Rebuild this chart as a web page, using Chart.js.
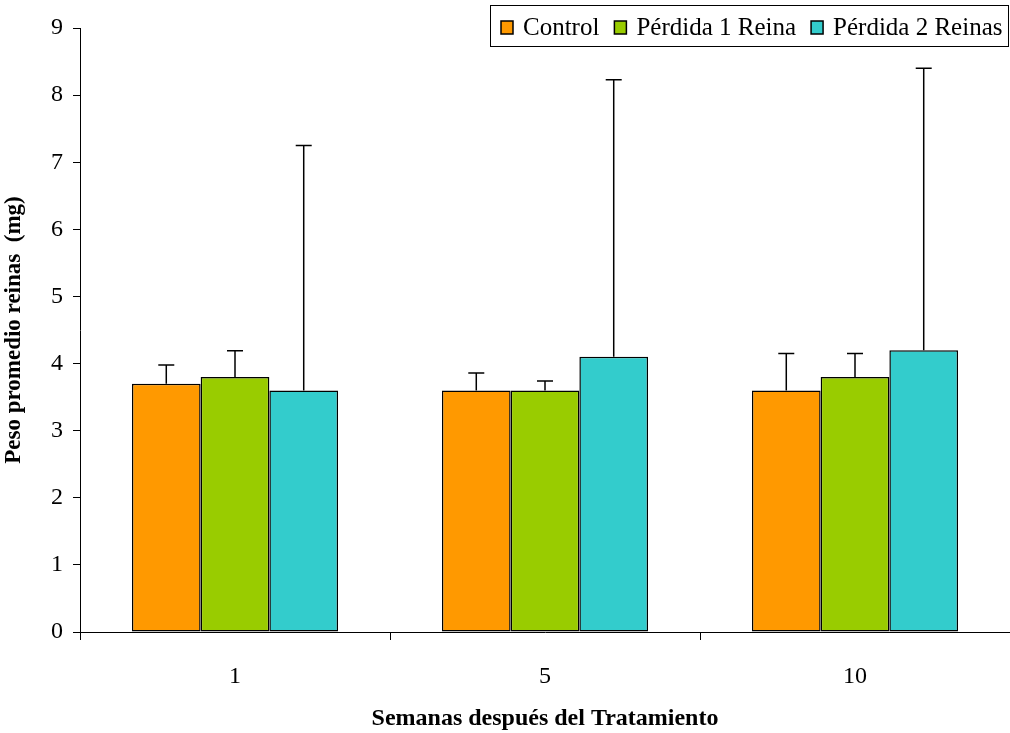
<!DOCTYPE html>
<html>
<head>
<meta charset="utf-8">
<script src="https://cdn.jsdelivr.net/npm/chart.js@4/dist/chart.umd.min.js"></script>
<style>
  body { margin: 0; background: #fff; }
  #wrap { position: relative; width: 1010px; height: 733px; }
</style>
</head>
<body>
<div id="wrap">
  <canvas id="chart" width="1010" height="733"></canvas>
</div>
<script>
// Peso promedio de reinas por semana y tratamiento
const weeks = ['1', '5', '10'];
const seriesNames = ['Control', 'Pérdida 1 Reina', 'Pérdida 2 Reinas'];
const seriesColors = ['#FF9900', '#99CC00', '#33CCCC'];

const controlMeans = [3.7, 3.6, 3.6];
const perdida1Means = [3.8, 3.6, 3.8];
const perdida2Means = [3.6, 4.1, 4.2];

// upper error (top of the whisker)
const controlErrTop = [3.98, 3.86, 4.15];
const perdida1ErrTop = [4.19, 3.74, 4.15];
const perdida2ErrTop = [7.25, 8.23, 8.40];

const yTicks = [0, 1, 2, 3, 4, 5, 6, 7, 8, 9];

const means = [controlMeans, perdida1Means, perdida2Means];
const errTops = [controlErrTop, perdida1ErrTop, perdida2ErrTop];

const serif = '"Liberation Serif", "Times New Roman", serif';

// draw upper error whiskers on every bar
const errorBars = {
    id: 'errorBars',
    afterDatasetsDraw: function(chart) {
        const ctx = chart.ctx;
        const y = chart.scales.y;
        ctx.save();
        ctx.strokeStyle = '#000';
        ctx.lineWidth = 1.5;
        chart.data.datasets.forEach(function(ds, di) {
            const meta = chart.getDatasetMeta(di);
            meta.data.forEach(function(bar, i) {
                const top = y.getPixelForValue(errTops[di][i]);
                ctx.beginPath();
                ctx.moveTo(bar.x, bar.y);
                ctx.lineTo(bar.x, top);
                ctx.moveTo(bar.x - 8, top);
                ctx.lineTo(bar.x + 8, top);
                ctx.stroke();
            });
        });
        ctx.restore();
    }
};

// boxed legend sitting over the top right of the plot
const boxLegend = {
    id: 'boxLegend',
    afterDraw: function(chart) {
        const ctx = chart.ctx;
        ctx.save();
        ctx.fillStyle = '#fff';
        ctx.fillRect(490, 5, 519, 41);
        ctx.strokeStyle = '#000';
        ctx.lineWidth = 1;
        ctx.strokeRect(490.5, 5.5, 518, 41);
        ctx.font = '25px ' + serif;
        ctx.textBaseline = 'middle';
        let x = 501;
        chart.data.datasets.forEach(function(ds) {
            ctx.fillStyle = ds.backgroundColor;
            ctx.fillRect(x, 21, 12, 13);
            ctx.lineWidth = 1.5;
            ctx.strokeRect(x, 21, 12, 13);
            ctx.fillStyle = '#000';
            ctx.fillText(ds.label, x + 22, 28);
            x += 22 + ctx.measureText(ds.label).width + 15;
        });
        ctx.restore();
    }
};

const datasets = seriesNames.map(function(name, i) {
    return {
        label: name,
        data: means[i],
        backgroundColor: seriesColors[i],
        borderColor: '#000',
        borderWidth: 1.5,
        borderSkipped: false,
        categoryPercentage: 0.665,
        barPercentage: 1.0
    };
});

new Chart(document.getElementById('chart'), {
    type: 'bar',
    data: { labels: weeks, datasets: datasets },
    plugins: [errorBars, boxLegend],
    options: {
        responsive: false,
        animation: false,
        layout: { padding: { top: 28, right: 0, left: 0, bottom: 0 } },
        plugins: {
            legend: { display: false },
            tooltip: { enabled: false }
        },
        scales: {
            x: {
                offset: true,
                afterFit: function(scale) { scale.height = 101; },
                border: { display: true, color: '#000', width: 1 },
                grid: {
                    offset: true,
                    drawOnChartArea: false,
                    drawTicks: true,
                    tickLength: 8,
                    color: '#000'
                },
                ticks: {
                    color: '#000',
                    padding: 22,
                    font: { family: serif, size: 24 }
                },
                title: {
                    display: true,
                    text: 'Semanas después del Tratamiento',
                    color: '#000',
                    padding: { top: 6, bottom: 0 },
                    font: { family: serif, size: 24, weight: 'bold' }
                }
            },
            y: {
                min: 0,
                max: 9,
                afterFit: function(scale) { scale.width = 80; },
                afterBuildTicks: function(scale) {
                    scale.ticks = yTicks.map(function(v) { return { value: v }; });
                },
                border: { display: true, color: '#000', width: 1 },
                grid: {
                    drawOnChartArea: false,
                    drawTicks: true,
                    tickLength: 7,
                    color: '#000'
                },
                ticks: {
                    color: '#000',
                    padding: 10,
                    font: { family: serif, size: 24 }
                },
                title: {
                    display: true,
                    text: 'Peso promedio reinas  (mg)',
                    color: '#000',
                    padding: { top: 0, bottom: 2 },
                    font: { family: serif, size: 23, weight: 'bold' }
                }
            }
        }
    }
});
</script>
</body>
</html>
